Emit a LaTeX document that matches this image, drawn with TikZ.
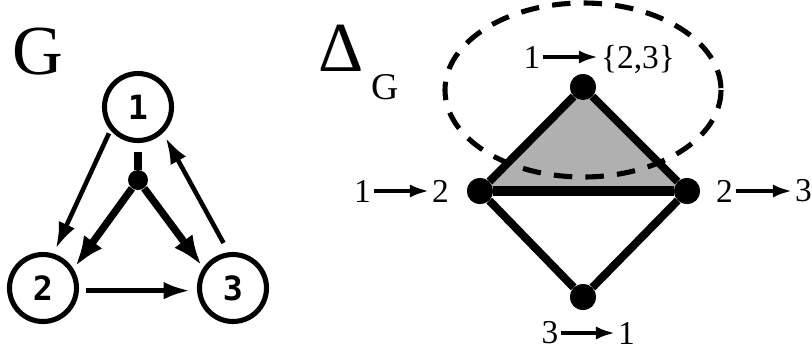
\documentclass[tikz,border=0pt]{standalone}
\usepackage{fontspec}
\setmainfont{Liberation Serif}
\newfontfamily\timesfont{Liberation Serif}
\newfontfamily\digfont{DejaVu Sans Mono}
\usetikzlibrary{arrows.meta}

\tikzset{
  gnode/.style={circle, draw, line width=2.9pt, minimum size=1.34cm, inner sep=0pt,
    font=\digfont\bfseries\fontsize{19}{19}\selectfont},
  hubdot/.style={circle, fill, minimum size=0.4cm, inner sep=0pt},
  vdot/.style={circle, fill, minimum size=0.52cm, inner sep=0pt},
  thinarr/.style={line width=2.6pt, -{Latex[length=15pt,width=10pt]}},
  thickarr/.style={line width=4.2pt, -{Latex[length=17pt,width=13pt]}},
  sidestroke/.style={line width=4.6pt, line join=round},
  lbl/.style={inner sep=1.5pt, font=\timesfont\fontsize{19}{19}\selectfont},
  maparrow/.style={line width=2.2pt, -{Latex[length=11pt,width=7.5pt]}},
}

\begin{document}
\begin{tikzpicture}[x=0.02cm, y=-0.02cm]
  \useasboundingbox (0,0) rectangle (812,353);

  % 1. the graph G
  \node[font=\timesfont\fontsize{40}{40}\selectfont, inner sep=0pt] (gname) at (38,51.5) {G};
  \node[gnode] (n1) at (138,107) {1};
  \node[gnode] (n2) at (43,288) {2};
  \node[gnode] (n3) at (233,288) {3};
  \node[hubdot] (hub) at (138,180) {};

  \draw[line width=4.2pt, shorten <=5pt] (n1) -- (hub);
  \draw[thickarr] (hub) -- ([shift={(3pt,-1pt)}]n2.41);
  \draw[thickarr] (hub) -- ([shift={(-3pt,-1pt)}]n3.137);
  \draw[thinarr, shorten <=2pt, shorten >=3pt] (n1.220) -- (n2.73);
  \draw[thinarr, shorten <=6pt, shorten >=3pt] (n3.97) -- (n1.314);
  \draw[thinarr, shorten <=4pt, shorten >=4pt] ([yshift=-1.5pt]n2.east) -- ([yshift=-1.5pt]n3.west);

  % 2. the complex Delta_G
  \node[font=\timesfont\fontsize{40}{40}\selectfont, inner sep=0pt] (dname) at (341,48.5) {Δ};
  \node[font=\timesfont\fontsize{21.5}{21.5}\selectfont, inner sep=0pt] (dsub) at (385,87.5) {G};

  \node[vdot] (vt) at (583,87) {};
  \node[vdot] (vl) at (480,191) {};
  \node[vdot] (vr) at (687,191) {};
  \node[vdot] (vb) at (583,297) {};

  \fill[black!31] (vt.center) -- (vl.center) -- (vr.center) -- cycle;
  \draw[sidestroke] (vt) -- (vl);
  \draw[sidestroke] (vt) -- (vr);
  \draw[sidestroke, line width=5.2pt] (vl) -- (vr);
  \draw[sidestroke] (vl) -- (vb);
  \draw[sidestroke] (vr) -- (vb);
  \draw[line width=2.9pt, dash pattern=on 10.5pt off 7.5pt] (583,90) ellipse [x radius=138, y radius=87];
  \foreach \v in {vt,vl,vr,vb} \node[vdot] at (\v) {};

  % 3. vertex labels
  \node[lbl] (t1) at (532,57) {1};
  \node[lbl] (t23) at (638,59) {\{2,3\}};
  \draw[maparrow] (t1.east) -- (t1.east -| t23.west);

  \node[lbl] (l1) at (362.5,191) {1};
  \node[lbl] (l2) at (440.5,191) {2};
  \draw[maparrow] (l1) -- (l2);

  \node[lbl] (r2) at (724.5,191) {2};
  \node[lbl] (r3) at (803.5,191) {3};
  \draw[maparrow] (r2) -- (r3);

  \node[lbl] (b3) at (550,333) {3};
  \node[lbl] (b1) at (626.5,333) {1};
  \draw[maparrow] (b3) -- (b1);
\end{tikzpicture}
\end{document}
